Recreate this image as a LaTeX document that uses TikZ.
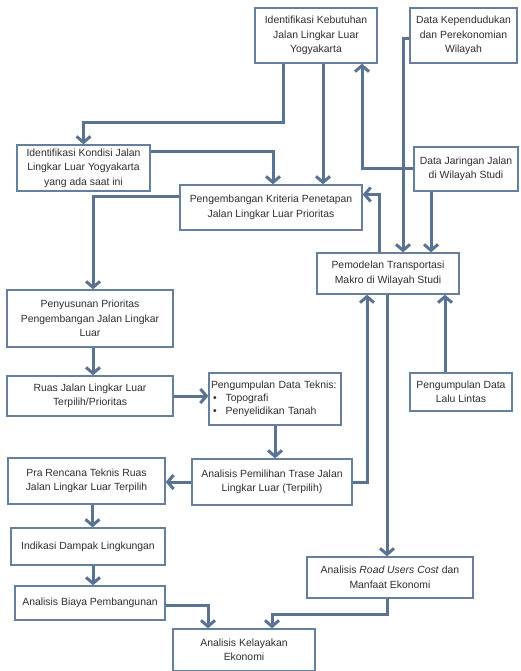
\documentclass[tikz,border=0pt]{standalone}
\usepackage{fontspec}
\setmainfont{Liberation Sans}
\usepackage{tikz}
\usetikzlibrary{positioning, arrows.meta, calc}
\definecolor{linkblue}{HTML}{5A7393}
\definecolor{boxedge}{HTML}{657F9C}
\definecolor{inkgray}{HTML}{2E2E2E}
\tikzset{
  procbox/.style={
    draw=boxedge, line width=1.3pt, fill=white,
    align=center, inner sep=2pt, text=inkgray,
    font=\fontsize{10.4}{14.5}\selectfont
  },
  flow/.style={-{Straight Barb[length=6pt,width=14pt]}, line width=3pt, draw=linkblue},
}

\begin{document}
\begin{tikzpicture}[x=1pt, y=-1pt]
  \useasboundingbox (0,0) rectangle (521,671);

  \node[procbox, minimum width=122pt, minimum height=55pt] (IK) at (316,35.5)
    {Identifikasi Kebutuhan\\Jalan Lingkar Luar\\Yogyakarta};
  \node[procbox, minimum width=107pt, minimum height=55pt] (DK) at (463.5,35.5)
    {Data Kependudukan\\dan Perekonomian\\Wilayah};
  \node[procbox, minimum width=133pt, minimum height=46pt] (IKJ) at (83.5,168)
    {Identifikasi Kondisi Jalan\\Lingkar Luar Yogyakarta\\yang ada saat ini};
  \node[procbox, minimum width=104pt, minimum height=44pt] (DJ) at (466,169)
    {Data Jaringan Jalan\\di Wilayah Studi};
  \node[procbox, minimum width=182pt, minimum height=45pt] (PK) at (271,207.5)
    {Pengembangan Kriteria Penetapan\\Jalan Lingkar Luar Prioritas};
  \node[procbox, minimum width=142pt, minimum height=41pt] (PT) at (388,273.5)
    {Pemodelan Transportasi\\Makro di Wilayah Studi};
  \node[procbox, minimum width=166pt, minimum height=57pt] (PP) at (90,318.5)
    {Penyusunan Prioritas\\Pengembangan Jalan Lingkar\\Luar};
  \node[procbox, minimum width=166pt, minimum height=40pt] (RJ) at (90,396)
    {Ruas Jalan Lingkar Luar\\Terpilih/Prioritas};
  \node[procbox, text width=128pt, minimum height=52pt, align=left,
        font=\fontsize{10.4}{13}\selectfont] (PDT) at (275,399)
    {Pengumpulan Data Teknis:\\
     \hspace*{2pt}\textbullet\hspace{9pt}Topografi\\
     \hspace*{2pt}\textbullet\hspace{9pt}Penyelidikan Tanah};
  \node[procbox, minimum width=102pt, minimum height=38pt] (PDL) at (461,392)
    {Pengumpulan Data\\Lalu Lintas};
  \node[procbox, minimum width=160pt, minimum height=46pt] (AP) at (272,482)
    {Analisis Pemilihan Trase Jalan\\Lingkar Luar (Terpilih)};
  \node[procbox, minimum width=157pt, minimum height=46pt] (PR) at (86.5,481)
    {Pra Rencana Teknis Ruas\\Jalan Lingkar Luar Terpilih};
  \node[procbox, minimum width=154pt, minimum height=37pt] (ID) at (88,546.5)
    {Indikasi Dampak Lingkungan};
  \node[procbox, minimum width=150pt, minimum height=34pt] (AB) at (90,603)
    {Analisis Biaya Pembangunan};
  \node[procbox, minimum width=166pt, minimum height=41pt] (AR) at (390,577.5)
    {Analisis \textit{Road Users Cost} dan\\Manfaat Ekonomi};
  \node[procbox, minimum width=142pt, minimum height=42pt] (AK) at (244,650)
    {Analisis Kelayakan\\Ekonomi};

  \draw[flow] ([xshift=-33pt]IK.south) -- ++(0,59) -| (IKJ.north);
  \draw[flow] ([xshift=7pt]IK.south) -- ([xshift=7pt]IK.south |- PK.north);
  \draw[flow] ([yshift=16pt]IKJ.east) -| ([xshift=2pt]PK.north);
  \draw[flow] ([yshift=11pt]PK.west) -| ([xshift=3pt]PP.north);
  \draw[flow] (DJ.west) -| ([xshift=46pt]IK.south);
  \draw[flow] ([yshift=-3pt]DK.west) -| ([xshift=15pt]PT.north);
  \draw[flow] ([xshift=-35pt]DJ.south) -- ([xshift=-35pt]DJ.south |- PT.north);
  \draw[flow] ([xshift=-9pt]PT.north) |- ([yshift=13pt]PK.east);
  \draw[flow] ([xshift=-1pt]PT.south) -- ([xshift=-1pt]PT.south |- AR.north);
  \draw[flow] (AP.east) -| ([xshift=-21pt]PT.south);
  \draw[flow] ([xshift=-16pt]PDL.north) -- ([xshift=-16pt]PDL.north |- PT.south);

  \draw[flow] ([xshift=3pt]PP.south) -- ([xshift=3pt]PP.south |- RJ.north);
  \draw[flow] (RJ.east) -- (RJ.east -| PDT.west);
  \draw[flow] (PDT.south) -- (PDT.south |- AP.north);
  \draw[flow] (AP.west) -- (AP.west -| PR.east);
  \draw[flow] ([xshift=6pt]PR.south) -- ([xshift=6pt]PR.south |- ID.north);
  \draw[flow] ([xshift=5pt]ID.south) -- ([xshift=5pt]ID.south |- AB.north);
  \draw[flow] ([yshift=-2pt]AB.east) -| ([xshift=-36pt]AK.north);
  \draw[flow] ([xshift=-3pt]AR.south) -- ++(0,16) -| ([xshift=28pt]AK.north);
\end{tikzpicture}
\end{document}
